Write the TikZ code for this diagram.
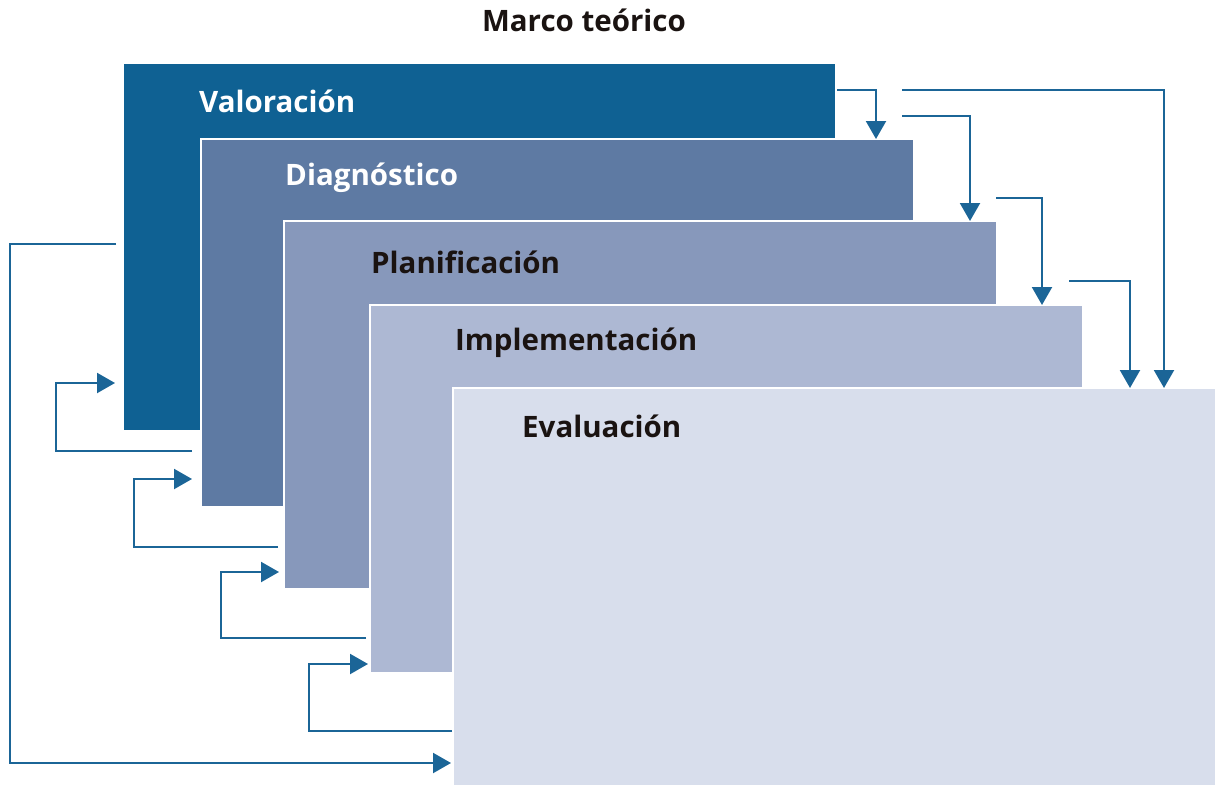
\documentclass[tikz,border=0pt]{standalone}
\usepackage{fontspec}
\setmainfont{Open Sans}
\usetikzlibrary{arrows.meta}

\definecolor{valcol}{RGB}{15,97,147}
\definecolor{diacol}{RGB}{94,122,163}
\definecolor{placol}{RGB}{135,152,187}
\definecolor{impcol}{RGB}{173,184,211}
\definecolor{evacol}{RGB}{216,222,236}
\definecolor{flowcol}{RGB}{27,101,151}
\definecolor{inkcol}{RGB}{26,19,17}

\begin{document}
\begin{tikzpicture}[x=1pt,y=-1pt,font=\fontsize{29.5}{34}\selectfont\bfseries,
  stage/.style={draw=white,line width=1.2pt,anchor=north west,inner sep=0pt,outer sep=0pt,minimum width=713pt,minimum height=368pt},
  stagename/.style={anchor=west,inner sep=0pt},
  flow/.style={draw=flowcol,line width=2.2pt,-{Triangle[width=20pt,length=18pt]}}]
\useasboundingbox (0,0) rectangle (1224,787);
\node[text=inkcol] (title) at (584,20) {Marco teórico};
% stages
\node[stage,fill=valcol] (val) at (123,63) {};
\node[stage,fill=diacol] (dia) at (201,139) {};
\node[stage,fill=placol] (pla) at (284,221) {};
\node[stage,fill=impcol] (imp) at (370,305) {};
\node[stage,fill=evacol,minimum width=763pt,minimum height=398pt] (eva) at (453,388) {};
\node[stagename,text=white] (valname) at (199,101) {Valoración};
\node[stagename,text=white] (dianame) at (285,178) {Diagnóstico};
\node[stagename,text=inkcol] (planame) at (371,262) {Planificación};
\node[stagename,text=inkcol] (impname) at (455,343) {Implementación};
\node[stagename,text=inkcol] (evaname) at (522,426) {Evaluación};
% forward arrows
\coordinate (f1) at (837,90);
\coordinate (f2) at (902,90);
\coordinate (f3) at (902,116);
\coordinate (f4) at (996,198);
\coordinate (f5) at (1069,281);
\draw[flow] (f1) -| (876,0 |- dia.north);
\draw[flow] (f2) -| (1164,0 |- eva.north);
\draw[flow] (f3) -| (970,0 |- pla.north);
\draw[flow] (f4) -| (1042,0 |- imp.north);
\draw[flow] (f5) -| (1130,0 |- eva.north);
% feedback arrows
\coordinate (b1) at (192,451);
\coordinate (b2) at (278,547);
\coordinate (b3) at (366,638);
\coordinate (b4) at (452,731);
\coordinate (b5) at (116,244);
\draw[flow,shorten >=8pt] (b1) -| (56,383) -- (val.west |- 0,383);
\draw[flow,shorten >=9pt] (b2) -| (134,479) -- (dia.west |- 0,479);
\draw[flow,shorten >=5pt] (b3) -| (221,572) -- (pla.west |- 0,572);
\draw[flow,shorten >=2pt] (b4) -| (309,664) -- (imp.west |- 0,664);
\draw[flow,shorten >=2pt] (b5) -| (10,763) -- (eva.west |- 0,763);
\end{tikzpicture}
\end{document}
